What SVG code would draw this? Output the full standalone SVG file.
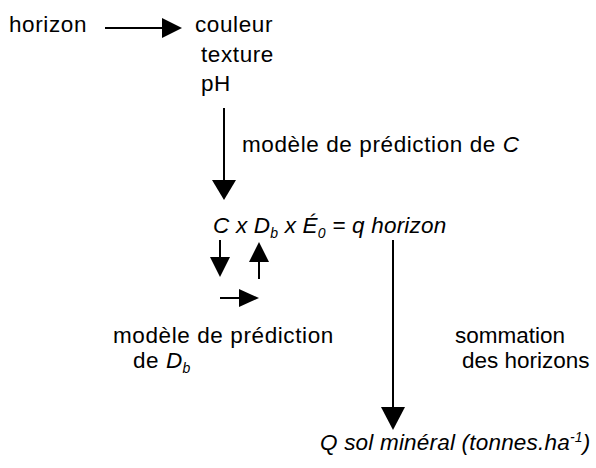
<svg xmlns="http://www.w3.org/2000/svg" width="596" height="468" viewBox="0 0 596 468">
<style>
text{font-family:"Liberation Sans",Arial,sans-serif;font-size:22.5px;fill:#000;letter-spacing:0.6px}
.i{font-style:italic;letter-spacing:0.2px}
.s{font-size:14px}
.n{letter-spacing:0px}
line{stroke:#000;stroke-width:2}
</style>
<rect width="596" height="468" fill="#fff"/>
<g id="n-horizon"><text x="9" y="32">horizon</text></g>
<g id="n-props"><text x="195" y="32">couleur</text><text x="201" y="62">texture</text><text x="201" y="91">pH</text></g>
<g id="n-modC"><text x="242" y="152">modèle de prédiction de <tspan class="i">C</tspan></text></g>
<g id="n-eq"><text x="213" y="233" class="i">C x D<tspan class="s" dy="5">b</tspan><tspan dy="-5"> x É</tspan><tspan class="s" dy="5">0</tspan><tspan dy="-5"> = q horizon</tspan></text></g>
<g id="n-modDb"><text x="113" y="343">modèle de prédiction</text><text x="133" y="368">de <tspan class="i">D</tspan><tspan class="i s" dy="5">b</tspan></text></g>
<g id="n-somm"><text class="n" x="455" y="343">sommation</text><text class="n" x="462" y="368">des horizons</text></g>
<g id="n-Q"><text x="320" y="450" class="i">Q sol minéral (tonnes.ha<tspan class="s" dy="-8">-1</tspan><tspan dy="8">)</tspan></text></g>
<g id="connectors">
<line x1="105" y1="28" x2="162" y2="28"/><path d="M162,18 L182,28 L162,38 Z"/>
<line x1="224" y1="108" x2="224" y2="181"/><path d="M212,180 L236,180 L224,200 Z"/>
<line x1="220" y1="240" x2="220" y2="258"/><path d="M210,257 L230,257 L220,277 Z"/>
<line x1="259" y1="261" x2="259" y2="279"/><path d="M249,262 L269,262 L259,242 Z"/>
<line x1="220" y1="298" x2="240" y2="298"/><path d="M239,289 L259,298 L239,307 Z"/>
<line x1="393" y1="240" x2="393" y2="408"/><path d="M381,407 L405,407 L393,430 Z"/>
</g>
</svg>
